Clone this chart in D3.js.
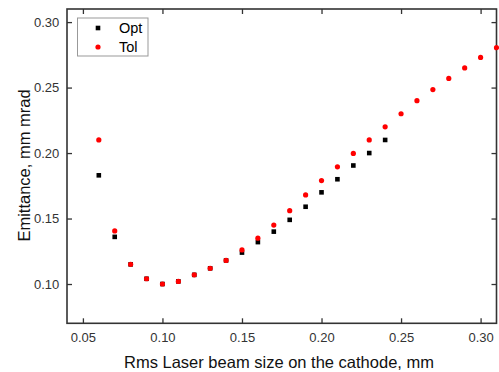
<!DOCTYPE html>
<html><head><meta charset="utf-8">
<script src="https://cdn.jsdelivr.net/npm/d3@7"></script>
<style>body{margin:0;background:#fff}svg{display:block;font-family:"Liberation Sans",Arial,sans-serif}</style>
</head><body><svg id="c" width="499" height="372"></svg>
<script>
const optX = [0.06,0.07,0.08,0.09,0.10,0.11,0.12,0.13,0.14,0.15,0.16,0.17,0.18,0.19,0.20,0.21,0.22,0.23,0.24];
const optY = [0.183,0.136,0.115,0.104,0.100,0.102,0.107,0.112,0.118,0.124,0.132,0.140,0.149,0.159,0.170,0.180,0.1905,0.200,0.210];
const tolX = [0.06,0.07,0.08,0.09,0.10,0.11,0.12,0.13,0.14,0.15,0.16,0.17,0.18,0.19,0.20,0.21,0.22,0.23,0.24,0.25,0.26,0.27,0.28,0.29,0.30,0.31];
const tolY = [0.210,0.1405,0.115,0.104,0.100,0.102,0.107,0.112,0.118,0.126,0.135,0.145,0.156,0.168,0.179,0.1895,0.1997,0.210,0.220,0.230,0.240,0.2485,0.257,0.265,0.273,0.2805];
const xTicks = [0.05,0.10,0.15,0.20,0.25,0.30];
const yTicks = [0.10,0.15,0.20,0.25,0.30];
const seriesNames = ["Opt","Tol"];
const xTitle = "Rms Laser beam size on the cathode, mm";
const yTitle = "Emittance, mm mrad";

const svg = d3.select("#c");
const L=67, R=496.5, T=9, B=323.3;
const x = d3.scaleLinear().domain([0.04,0.31]).range([L,R]);
const y = d3.scaleLinear().domain([0.07,0.31]).range([B,T]);
const axisCol="#333";
const fmt=d3.format(".2f");

function styleAxis(g){
  g.select(".domain").remove();
  g.selectAll(".tick line").attr("stroke",axisCol).attr("stroke-width",1.3);
  g.selectAll(".tick text").attr("fill","#333").attr("font-size","13px").attr("font-family","Liberation Sans, Arial, sans-serif");
}
svg.append("g").attr("transform",`translate(0,${B})`)
  .call(d3.axisBottom(x).tickValues(xTicks).tickFormat(fmt).tickSizeInner(-5).tickSizeOuter(0).tickPadding(9.2))
  .call(styleAxis);
svg.append("g").attr("transform",`translate(0,${T})`)
  .call(d3.axisTop(x).tickValues(xTicks).tickFormat("").tickSizeInner(-5).tickSizeOuter(0))
  .call(styleAxis);
svg.append("g").attr("transform",`translate(${L},0)`)
  .call(d3.axisLeft(y).tickValues(yTicks).tickFormat(fmt).tickSizeInner(-5).tickSizeOuter(0).tickPadding(7.7))
  .call(styleAxis);
svg.append("g").attr("transform",`translate(${R},0)`)
  .call(d3.axisRight(y).tickValues(yTicks).tickFormat("").tickSizeInner(-5).tickSizeOuter(0))
  .call(styleAxis);

svg.append("rect").attr("x",L).attr("y",T).attr("width",R-L).attr("height",B-T)
  .attr("fill","none").attr("stroke",axisCol).attr("stroke-width",1.6);

const opt = optX.map((v,i)=>({x:v,y:optY[i]}));
const tol = tolX.map((v,i)=>({x:v,y:tolY[i]}));
svg.append("g").selectAll("rect").data(opt).join("rect")
  .attr("x",d=>x(d.x)-2.3).attr("y",d=>y(d.y)-2.3).attr("width",4.6).attr("height",4.6).attr("fill","#000");
svg.append("g").selectAll("circle").data(tol).join("circle")
  .attr("cx",d=>x(d.x)).attr("cy",d=>y(d.y)).attr("r",2.6).attr("fill","#ff0000");

// legend
const lg = svg.append("g");
lg.append("rect").attr("x",77.5).attr("y",18).attr("width",70.5).attr("height",38)
  .attr("fill","#fff").attr("stroke","#999").attr("stroke-width",1);
lg.append("rect").attr("x",98-2.3).attr("y",28-2.3).attr("width",4.6).attr("height",4.6).attr("fill","#000");
lg.append("circle").attr("cx",98).attr("cy",47).attr("r",2.6).attr("fill","#ff0000");
lg.selectAll("text").data(seriesNames).join("text")
  .attr("x",119).attr("y",(d,i)=>28+i*19).attr("dy","0.36em")
  .attr("font-size","14.5px").attr("fill","#000").text(d=>d);

svg.append("text").attr("x",279).attr("y",368).attr("text-anchor","middle")
  .attr("font-size","16.5px").attr("fill","#111").text(xTitle);
svg.append("text").attr("transform",`translate(30,165.5) rotate(-90)`).attr("text-anchor","middle")
  .attr("font-size","16.5px").attr("fill","#111").text(yTitle);
</script></body></html>
